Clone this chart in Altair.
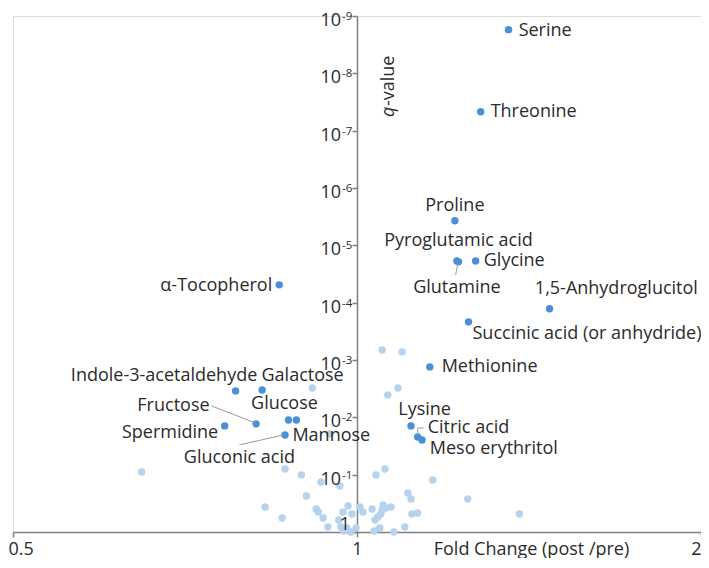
import altair as alt
import pandas as pd

# ---- labelled (significant) metabolites ----
names = ["Serine", "Threonine", "Proline", "Pyroglutamic acid", "Glutamine", "Glycine",
         "1,5-Anhydroglucitol", "Succinic acid (or anhydride)", "α-Tocopherol", "Methionine",
         "Lysine", "Citric acid", "Meso erythritol", "Indole-3-acetaldehyde", "Galactose",
         "Fructose", "Glucose", "Mannose", "Gluconic acid", "Spermidine"]
sig_fc = [1.357, 1.283, 1.218, 1.223, 1.227, 1.270, 1.474, 1.252, 0.855, 1.158,
          1.115, 1.130, 1.140, 0.783, 0.826, 0.816, 0.871, 0.885, 0.865, 0.766]
sig_q = [1.73e-9, 4.68e-8, 3.73e-6, 1.87e-5, 1.94e-5, 1.87e-5, 1.28e-4, 2.16e-4, 4.89e-5, 1.32e-3,
         0.0141, 0.0220, 0.0248, 3.46e-3, 3.33e-3, 0.0130, 0.0111, 0.0111, 0.0203, 0.0141]

# label anchor positions (fold change, q-value) and alignment
lab_fc = [1.385, 1.309, 1.218, 1.227, 1.223, 1.291, 1.431, 1.262, 0.843, 1.186,
          1.146, 1.153, 1.158, 0.818, 0.825, 0.743, 0.864, 0.878, 0.789, 0.756]
lab_q = [1.81e-9, 4.68e-8, 2.05e-6, 8.34e-6, 5.52e-5, 1.87e-5, 5.74e-5, 3.51e-4, 5.09e-5, 1.32e-3,
         7.43e-3, 0.0153, 0.0356, 1.89e-3, 1.89e-3, 6.32e-3, 5.83e-3, 0.0211, 0.0511, 0.0187]
lab_align = ["left", "left", "center", "center", "center", "left", "left", "left", "right", "left",
             "center", "left", "left", "right", "left", "right", "center", "left", "center", "right"]

# ---- non-significant metabolites ----
ns_fc = [1.052, 1.095, 0.914, 1.086, 1.064, 0.947, 0.648, 0.865, 0.894, 0.930,
         0.966, 1.039, 1.058, 1.165, 0.903, 1.108, 1.115, 1.250, 0.831, 0.860,
         0.921, 0.925, 0.934, 0.943, 0.964, 0.972, 0.982, 0.990, 0.968, 0.980,
         0.988, 0.998, 0.974, 1.006, 1.012, 1.031, 1.037, 1.043, 1.049, 1.054,
         1.060, 1.071, 1.052, 1.035, 1.047, 1.077, 1.101, 1.117, 1.130, 1.387]
ns_q = [6.67e-4, 7.22e-4, 3.07e-3, 3.07e-3, 4.06e-3, 0.0195, 0.0897, 0.0795, 0.101, 0.134,
        0.157, 0.101, 0.0795, 0.124, 0.235, 0.209, 0.265, 0.265, 0.366, 0.570,
        0.397, 0.448, 0.570, 0.818, 0.618, 0.448, 0.352, 0.485, 0.818, 0.851,
        1.0, 0.851, 0.96, 0.366, 0.448, 0.397, 0.618, 0.547, 0.485, 0.338,
        0.381, 0.366, 0.413, 0.96, 0.851, 1.0, 0.818, 0.485, 0.466, 0.485]

# leader lines (from label to point)
lead_fc = [0.746, 0.789, 1.225, 1.130, 1.130]
lead_q = [6.32e-3, 0.0303, 2.10e-5, 0.0187, 0.0153]
lead_fc2 = [0.815, 0.862, 1.220, 1.130, 1.144]
lead_q2 = [0.01253, 0.0203, 3.27e-5, 0.0153, 0.0153]

# y-axis ticks
ytick_q = [1e-9, 1e-8, 1e-7, 1e-6, 1e-5, 1e-4, 1e-3, 1e-2, 1e-1]
ytick_exp = ["-9", "-8", "-7", "-6", "-5", "-4", "-3", "-2", "-1"]

FONT = "Open Sans"
FS = 18
TXT = "#2b2b2b"
AX = "#808080"
DARK = "#4a90d9"
LIGHT = "#b5d2ef"

W = 688
H = 516

pts = pd.concat([
    pd.DataFrame({"fc": ns_fc, "q": ns_q, "grp": "ns"}),
    pd.DataFrame({"fc": sig_fc, "q": sig_q, "grp": "sig"}),
], ignore_index=True)
labels = pd.DataFrame({"name": names, "fc": lab_fc, "q": lab_q, "align": lab_align})
leads = pd.DataFrame({"fc": lead_fc, "q": lead_q, "fc2": lead_fc2, "q2": lead_q2})
yt = pd.DataFrame({"q": ytick_q, "exp": ytick_exp, "fc": [1.0] * len(ytick_q), "base": ["10"] * len(ytick_q)})
one = pd.DataFrame({"q": [1.0], "fc": [1.0], "t": ["1"]})

xsc = alt.Scale(type="log", domain=[0.5, 2], nice=False)
ysc = alt.Scale(type="log", domain=[1e-9, 1], reverse=True, nice=False)

X = alt.X("fc:Q", scale=xsc, axis=alt.Axis(
    values=[0.5, 1, 2], format="~g", orient="bottom", grid=False,
    domainColor=AX, domainWidth=1.5, tickColor=AX, tickWidth=1.5, tickSize=5,
    labelFont=FONT, labelFontSize=FS, labelColor=TXT, labelPadding=3,
    labelFlush=False,
    labelAlign={"condition": [{"test": "datum.value == 0.5", "value": "left"},
                              {"test": "datum.value == 2", "value": "right"}],
                "value": "center"},
    labelOffset=alt.condition("datum.value == 0.5", alt.value(-5), alt.value(0)),
    title="Fold Change (post /pre)", titleFont=FONT, titleFontSize=FS,
    titleFontWeight="normal", titleColor=TXT, titleX=518, titleY=8,
    titleAlign="center", titleBaseline="top"))
Y = alt.Y("q:Q", scale=ysc, axis=alt.Axis(
    values=ytick_q + [1.0], orient="left", offset=-W / 2, labels=False, grid=False,
    domainColor=AX, domainWidth=1.5, tickColor=AX, tickWidth=1.5, tickSize=5,
    title=None))

points = alt.Chart(pts).mark_circle(size=55, opacity=1).encode(
    x=X, y=Y,
    color=alt.Color("grp:N", scale=alt.Scale(domain=["ns", "sig"], range=[LIGHT, DARK]), legend=None),
    order=alt.Order("grp:N"),
)

leaders = alt.Chart(leads).mark_rule(color="#999999", strokeWidth=1).encode(
    x=alt.X("fc:Q", scale=xsc), y=alt.Y("q:Q", scale=ysc),
    x2="fc2:Q", y2="q2:Q")

def lab_layer(al):
    return alt.Chart(labels[labels["align"] == al]).mark_text(
        align=al, baseline="middle", font=FONT, fontSize=FS, color=TXT).encode(
        x=alt.X("fc:Q", scale=xsc), y=alt.Y("q:Q", scale=ysc), text="name:N")

tick_base = alt.Chart(yt).mark_text(align="right", baseline="middle", dx=-16, dy=5,
                                    font=FONT, fontSize=FS, color=TXT).encode(
    x=alt.X("fc:Q", scale=xsc), y=alt.Y("q:Q", scale=ysc), text="base:N")
tick_exp = alt.Chart(yt).mark_text(align="left", baseline="middle", dx=-15, dy=1,
                                   font=FONT, fontSize=11.5, color=TXT).encode(
    x=alt.X("fc:Q", scale=xsc), y=alt.Y("q:Q", scale=ysc), text="exp:N")
tick_one = alt.Chart(one).mark_text(align="right", baseline="middle", dx=-7, dy=-7,
                                    font=FONT, fontSize=FS, color=TXT).encode(
    x=alt.X("fc:Q", scale=xsc), y=alt.Y("q:Q", scale=ysc), text="t:N")

title_df = pd.DataFrame({"a": ["q"], "b": ["-value"]})
ytitle_q = alt.Chart(title_df).mark_text(angle=270, align="left", baseline="middle",
                                         font=FONT, fontSize=FS, fontStyle="italic", color=TXT).encode(
    x=alt.value(376), y=alt.value(101), text="a:N")
ytitle_v = alt.Chart(title_df).mark_text(angle=270, align="left", baseline="middle",
                                         font=FONT, fontSize=FS, color=TXT).encode(
    x=alt.value(376), y=alt.value(90), text="b:N")

chart = alt.layer(
    points, leaders, lab_layer("left"), lab_layer("right"), lab_layer("center"),
    tick_base, tick_exp, tick_one, ytitle_q, ytitle_v
).properties(
    width=W, height=H,
    autosize=alt.AutoSizeParams(type="none"),
    padding={"left": 5, "top": 8, "right": 0, "bottom": 26},
).configure_view(stroke=None).configure(background="white")

chart.save("out.html", embed_options={"renderer": "svg", "actions": False})
